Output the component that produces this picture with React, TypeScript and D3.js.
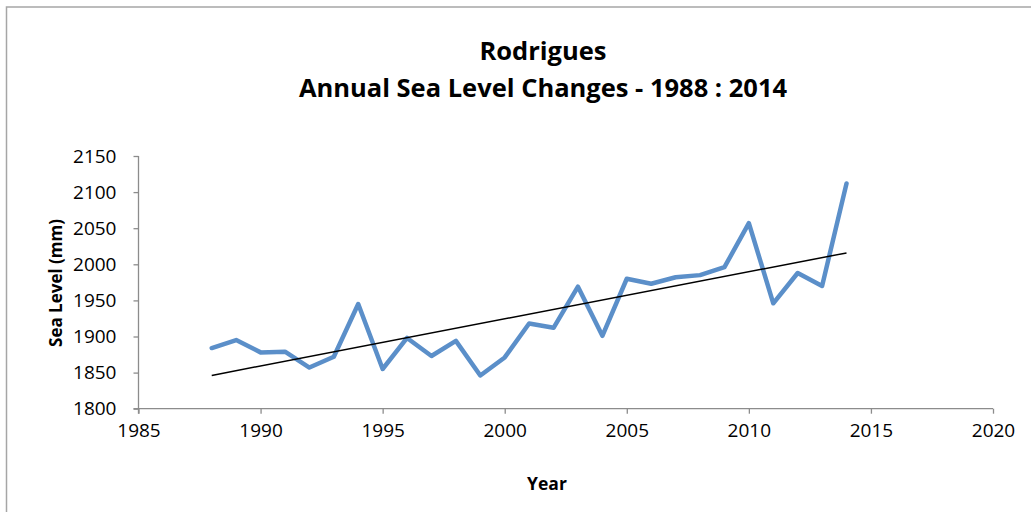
import React, { useEffect, useRef } from 'react';
import * as d3 from 'd3';

const years = [1988, 1989, 1990, 1991, 1992, 1993, 1994, 1995, 1996, 1997, 1998, 1999, 2000, 2001,
  2002, 2003, 2004, 2005, 2006, 2007, 2008, 2009, 2010, 2011, 2012, 2013, 2014];
const seaLevel = [1884, 1895, 1878, 1879, 1857, 1872, 1945, 1855, 1898, 1873, 1894, 1846, 1871, 1918,
  1912, 1969, 1901, 1980, 1973, 1982, 1985, 1996, 2057, 1946, 1988, 1970, 2112];
const xTicks = [1985, 1990, 1995, 2000, 2005, 2010, 2015, 2020];
const yTicks = [1800, 1850, 1900, 1950, 2000, 2050, 2100, 2150];
const titleLines = ['Rodrigues', 'Annual Sea Level Changes - 1988 : 2014'];

const W = 1031;
const H = 512;
const FONT = '"Open Sans", "DejaVu Sans", sans-serif';

export default function App() {
  const ref = useRef<SVGSVGElement>(null);

  useEffect(() => {
    document.body.style.margin = '0';
    const svg = d3.select(ref.current);
    svg.selectAll('*').remove();

    const x = d3.scaleLinear().domain([1985, 2020]).range([138.5, 993]);
    const y = d3.scaleLinear().domain([1800, 2150]).range([408.7, 156]);

    // outer chart border (right/bottom edges fall outside the picture)
    svg.append('path')
      .attr('d', `M6.5,${H} V7 H${W}`)
      .attr('fill', 'none')
      .attr('stroke', '#a6a6a6')
      .attr('stroke-width', 1.5);

    // title
    svg.append('g')
      .selectAll('text')
      .data(titleLines)
      .enter()
      .append('text')
      .attr('x', 543)
      .attr('y', (d, i) => 60 + i * 37)
      .attr('text-anchor', 'middle')
      .attr('font-family', FONT)
      .attr('font-weight', 'bold')
      .attr('font-size', 25.5)
      .attr('fill', '#000')
      .text(d => d);

    // y axis
    const yAxis = svg.append('g')
      .attr('transform', `translate(${x(1985)},0)`)
      .call(d3.axisLeft(y).tickValues(yTicks).tickSize(5).tickPadding(17).tickFormat(d3.format('d')));
    yAxis.select('.domain').attr('stroke', '#8c8c8c').attr('stroke-width', 1.3)
      .attr('d', `M0,${y(2150)}V${y(1800) + 5}`);
    yAxis.selectAll('.tick line').attr('stroke', '#8c8c8c').attr('stroke-width', 1.3);
    yAxis.selectAll('.tick text')
      .attr('font-family', FONT)
      .attr('font-size', 19)
      .attr('fill', '#000');

    // x axis
    const xAxis = svg.append('g')
      .attr('transform', `translate(0,${y(1800)})`)
      .call(d3.axisBottom(x).tickValues(xTicks).tickSize(5).tickPadding(10).tickFormat(d3.format('d')));
    xAxis.select('.domain').attr('stroke', '#8c8c8c').attr('stroke-width', 1.3)
      .attr('d', `M${x(1985) - 5},0H${x(2020)}`);
    xAxis.selectAll('.tick line').attr('stroke', '#8c8c8c').attr('stroke-width', 1.3);
    xAxis.selectAll('.tick text')
      .attr('font-family', FONT)
      .attr('font-size', 19)
      .attr('fill', '#000');

    // axis titles
    svg.append('text')
      .attr('x', 547)
      .attr('y', 490)
      .attr('text-anchor', 'middle')
      .attr('font-family', FONT)
      .attr('font-weight', 'bold')
      .attr('font-size', 17.5)
      .text('Year');

    svg.append('text')
      .attr('transform', 'translate(62,283) rotate(-90)')
      .attr('text-anchor', 'middle')
      .attr('font-family', FONT)
      .attr('font-weight', 'bold')
      .attr('font-size', 17)
      .text('Sea Level (mm)');

    // data line
    const pts = years.map((yr, i) => [yr, seaLevel[i]] as [number, number]);
    const line = d3.line<[number, number]>()
      .x(d => x(d[0]))
      .y(d => y(d[1]));

    svg.append('path')
      .datum(pts)
      .attr('d', line)
      .attr('fill', 'none')
      .attr('stroke', '#5b8fc9')
      .attr('stroke-width', 4.5)
      .attr('stroke-linejoin', 'round')
      .attr('stroke-linecap', 'round');

    // linear trendline (least squares)
    const mx = d3.mean(years) as number;
    const my = d3.mean(seaLevel) as number;
    const slope = d3.sum(years, (yr, i) => (yr - mx) * (seaLevel[i] - my)) /
      d3.sum(years, yr => (yr - mx) ** 2);
    const ends = d3.extent(years) as [number, number];
    const trend = ends.map(yr => [yr, my + slope * (yr - mx)] as [number, number]);

    svg.append('path')
      .datum(trend)
      .attr('d', line)
      .attr('fill', 'none')
      .attr('stroke', '#000')
      .attr('stroke-width', 1.5);
  }, []);

  return <svg ref={ref} width={W} height={H} style={{ display: 'block', background: '#fff' }} />;
}
